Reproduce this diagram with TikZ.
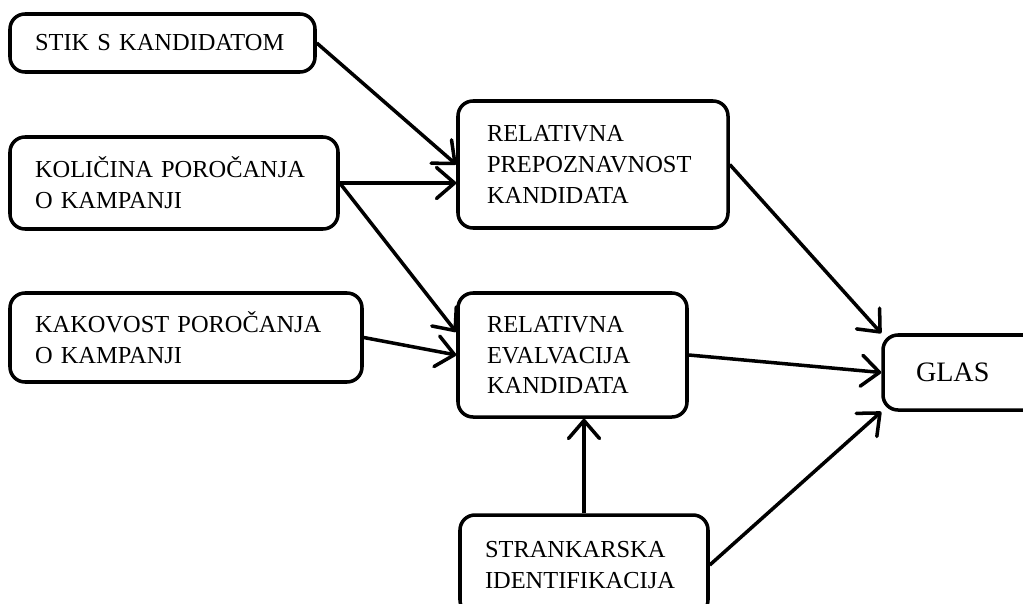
\documentclass[tikz,border=0pt]{standalone}
\usepackage{fontspec}
\setmainfont{Liberation Serif}
\usetikzlibrary{arrows.meta,positioning}

\begin{document}
\begin{tikzpicture}[
  box/.style={rectangle, draw=black, line width=2pt, rounded corners=0.3cm,
    align=left, inner xsep=0.5cm, inner ysep=0pt,
    font=\fontsize{13.9}{17.6}\selectfont},
  arr/.style={-{Straight Barb[length=0.36cm, width=0.62cm, round]}, line width=2pt}
]
  \useasboundingbox (0,0) rectangle (20.46,-12.06);
  % sources
  \node[box, text width=5.1cm, minimum height=1.16cm] (stik) at (3.25,-0.86) {STIK S KANDIDATOM};
  \node[box, text width=5.56cm, minimum height=1.84cm] (kolicina) at (3.48,-3.66) {KOLIČINA POROČANJA\\O KAMPANJI};
  \node[box, text width=6.04cm, minimum height=1.78cm] (kakovost) at (3.72,-6.75) {KAKOVOST POROČANJA\\O KAMPANJI};
  % middle
  \node[box, inner xsep=0.58cm, text width=4.24cm, minimum height=2.54cm] (prep) at (11.86,-3.29) {RELATIVNA\\PREPOZNAVNOST\\KANDIDATA};
  \node[box, inner xsep=0.58cm, text width=3.42cm, minimum height=2.48cm] (eval) at (11.45,-7.10) {RELATIVNA\\EVALVACIJA\\KANDIDATA};
  \node[box, text width=3.96cm, minimum height=2.0cm] (strank) at (11.68,-11.30) {STRANKARSKA\\IDENTIFIKACIJA};
  % outcome
  \node[box, inner xsep=0.66cm, text width=1.82cm, minimum height=1.5cm, font=\fontsize{16}{19}\selectfont] (glas) at (19.23,-7.45) {GLAS};

  \draw[arr] (stik.east) -- (prep.west);
  \draw[arr] (kolicina.east) -- ([yshift=-0.37cm]prep.west);
  \draw[arr] (kolicina.east) -- ([yshift=0.46cm]eval.west);
  \draw[arr] (kakovost.east) -- (eval.west);
  \draw[arr] (prep.east) -- (glas.north west);
  \draw[arr] (eval.east) -- (glas.west);
  \draw[arr] (strank.north) -- (strank.north |- eval.south);
  \draw[arr] (strank.east) -- (glas.south west);
\end{tikzpicture}
\end{document}
